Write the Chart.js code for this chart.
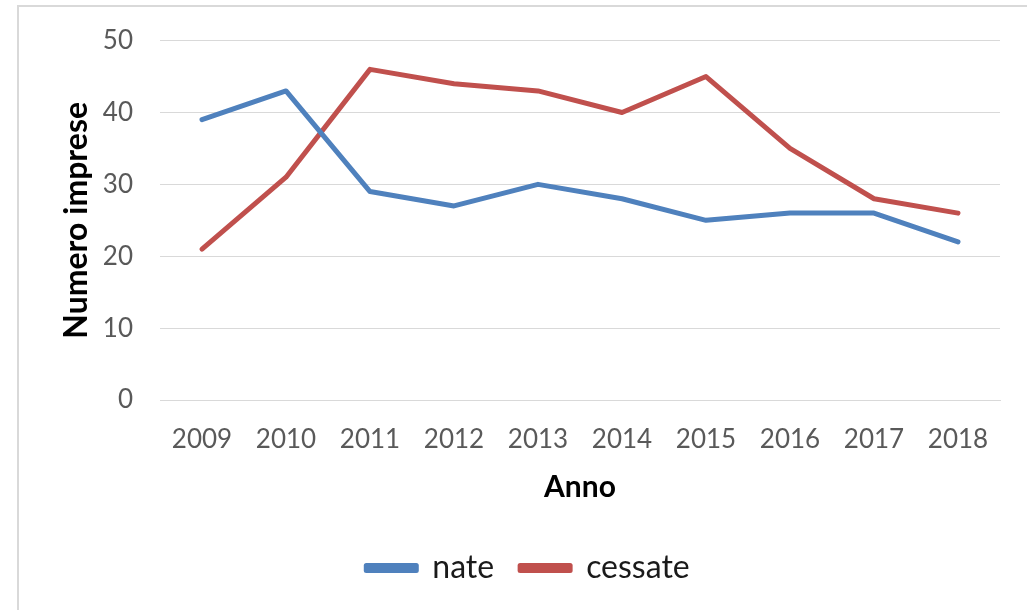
<!DOCTYPE html>
<html lang="it">
<head>
    <meta charset="UTF-8">
    <title>Imprese nate e cessate</title>
    <style>
        body { margin: 0; background: #fff; }
        #box {
            position: absolute; left: 17px; top: 5px;
            width: 1060px; height: 640px;
            border: 2px solid #d9d9d9; background: #fff;
        }
        #myChart { position: absolute; left: 0; top: -9px; }
    </style>
</head>
<body>
    <div id="box">
        <canvas id="myChart" width="1018" height="596"></canvas>
    </div>

    <script src="https://cdn.jsdelivr.net/npm/chart.js"></script>
    <script>
        const anni = ['2009', '2010', '2011', '2012', '2013', '2014', '2015', '2016', '2017', '2018'];
        const nate = [39, 43, 29, 27, 30, 28, 25, 26, 26, 22];
        const cessate = [21, 31, 46, 44, 43, 40, 45, 35, 28, 26];
        const yTicks = [0, 10, 20, 30, 40, 50];

        const font = 'Lato';
        const ctx = document.getElementById('myChart');

        new Chart(ctx, {
            type: 'line',
            data: {
                labels: anni,
                datasets: [{
                    label: 'nate',
                    data: nate,
                    borderColor: '#4f81bd',
                    backgroundColor: '#4f81bd',
                    borderWidth: 5,
                    pointRadius: 0,
                    tension: 0,
                    borderCapStyle: 'round',
                    borderJoinStyle: 'round'
                }, {
                    label: 'cessate',
                    data: cessate,
                    borderColor: '#c0504d',
                    backgroundColor: '#c0504d',
                    borderWidth: 5,
                    pointRadius: 0,
                    tension: 0,
                    borderCapStyle: 'round',
                    borderJoinStyle: 'round'
                }]
            },
            options: {
                responsive: false,
                animation: false,
                layout: { padding: { left: 0, right: 0, top: 23, bottom: 0 } },
                plugins: {
                    tooltip: { enabled: false },
                    legend: {
                        position: 'bottom',
                        labels: {
                            font: { family: font, size: 32 },
                            color: '#1a1a1a',
                            boxWidth: 50,
                            boxHeight: 5,
                            padding: 26
                        }
                    }
                },
                scales: {
                    x: {
                        offset: true,
                        grid: { display: false, drawTicks: false },
                        border: { display: true, color: '#d9d9d9', width: 1 },
                        ticks: { font: { family: font, size: 26 }, color: '#595959', padding: 24 },
                        title: {
                            display: true, text: 'Anno', color: '#000',
                            font: { family: font, size: 30, weight: 'bold' },
                            padding: { top: 0, bottom: 21 }
                        },
                        afterFit: s => { s.height = 126; }
                    },
                    y: {
                        min: 0, max: 50,
                        afterBuildTicks: s => { s.ticks = yTicks.map(v => ({ value: v })); },
                        grid: { color: '#d9d9d9', lineWidth: 1, drawTicks: false },
                        border: { display: false },
                        ticks: { font: { family: font, size: 26 }, color: '#595959', padding: 27 },
                        title: {
                            display: true, text: 'Numero imprese', color: '#000',
                            font: { family: font, size: 32, weight: 'bold' },
                            padding: { top: 38, bottom: 0 }
                        },
                        afterFit: s => { s.width = 141; }
                    },
                    // empty right axis, only keeps the plot away from the right edge
                    yRight: {
                        type: 'linear',
                        position: 'right',
                        grid: { display: false, drawTicks: false },
                        border: { display: false },
                        ticks: { display: false },
                        afterFit: s => { s.width = 37; }
                    }
                }
            }
        });
    </script>
</body>
</html>
